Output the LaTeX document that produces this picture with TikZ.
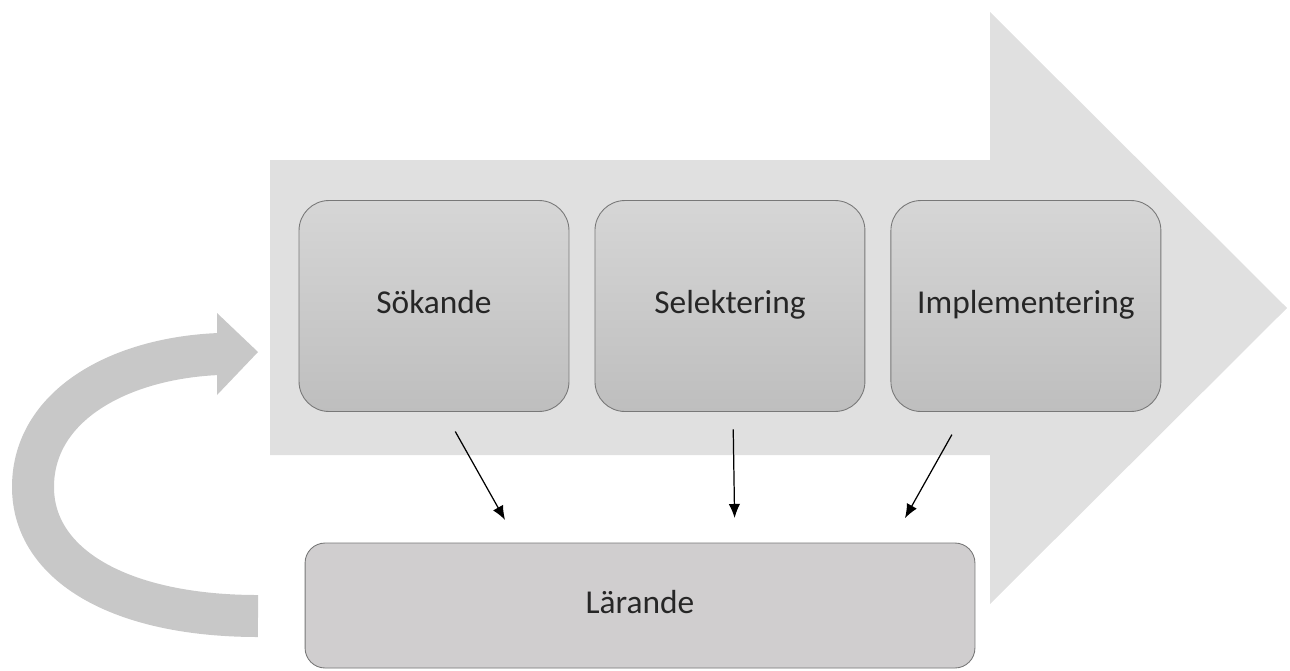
\documentclass[tikz,border=0pt]{standalone}
\usepackage{fontspec}
\setmainfont{Carlito}
\usetikzlibrary{positioning,calc,arrows.meta}
\definecolor{bandgray}{RGB}{224,224,224}
\definecolor{loopgray}{RGB}{200,200,200}
\definecolor{boxtop}{RGB}{214,214,214}
\definecolor{boxbottom}{RGB}{190,190,190}
\definecolor{learnfill}{RGB}{208,206,207}
\definecolor{edgegray}{RGB}{120,120,120}

\begin{document}
\begin{tikzpicture}[x=0.02cm, y=-0.02cm]
  \tikzset{phase/.style={draw=edgegray, line width=0.5pt, rounded corners=0.6cm,
      top color=boxtop, bottom color=boxbottom, minimum width=5.4cm,
      minimum height=4.22cm, inner sep=0pt, outer sep=0pt,
      text height=13pt, text depth=4pt,
      font=\fontsize{19}{22}\selectfont, text=black!85},
    learn/.style={phase, fill=learnfill, top color=learnfill, bottom color=learnfill,
      rounded corners=0.4cm, minimum width=13.4cm, minimum height=2.5cm},
    flow/.style={-{Latex[length=8pt,width=6.5pt]}, line width=0.7pt}}
  \useasboundingbox (0,0) rectangle (1290,670);
  % big process arrow
  \fill[bandgray] (270,160) -- (990,160) -- (990,12) -- (1287,308)
    -- (990,604) -- (990,455) -- (270,455) -- cycle;
  % feedback loop
  \draw[loopgray, line width=0.84cm] (258,616) .. controls (120,616) and (33,565) .. (33,487)
    .. controls (33,405) and (120,358) .. (219,354);
  \fill[loopgray] (217,313) -- (258,352) -- (217,395) -- cycle;
  % phases
  \node[phase] (sok) at (434,306) {Sökande};
  \node[phase, right=0.52cm of sok] (sel) {Selektering};
  \node[phase, right=0.52cm of sel] (imp) {Implementering};
  \node[learn] (lar) at (640,605.5) {Lärande};
  \draw[flow, shorten <=0.46cm, shorten >=0.53cm] ($(sok.south)+(10,0)$) -- ($(lar.north)+(-122,0)$);
  \draw[flow, shorten <=0.36cm, shorten >=0.5cm] ($(sel.south)+(3,0)$) -- ($(lar.north)+(95,0)$);
  \draw[flow, shorten <=0.53cm, shorten >=0.57cm] ($(imp.south)+(-61,0)$) -- ($(lar.north)+(251,0)$);
\end{tikzpicture}
\end{document}
